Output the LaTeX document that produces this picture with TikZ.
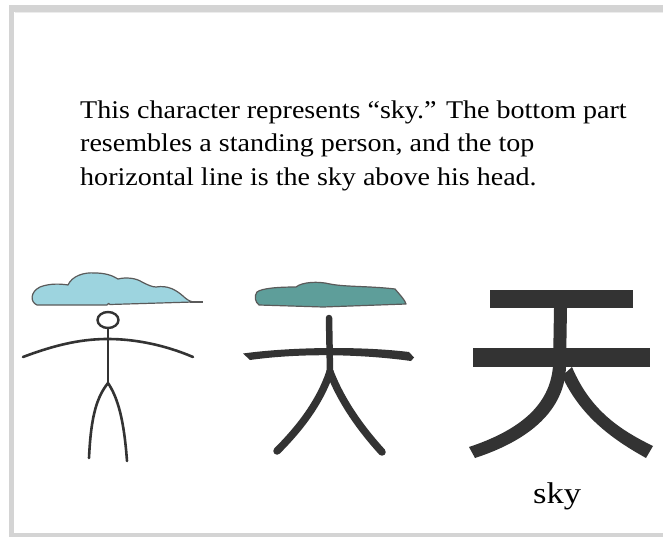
\documentclass[tikz,border=0pt]{standalone}
\usepackage{fontspec}
\setmainfont{Liberation Serif}
\usetikzlibrary{shapes.geometric}
\definecolor{frame}{HTML}{D4D4D4}
\definecolor{ink}{HTML}{333333}
\definecolor{skyblue}{HTML}{9DD4DF}
\definecolor{skyteal}{HTML}{5E9E9A}
\definecolor{cloudline}{HTML}{5A5A5A}
\tikzset{
  caption/.style={anchor=base west, inner sep=0pt, font=\fontsize{25.5}{34}\selectfont},
  glyphlabel/.style={anchor=base west, inner sep=0pt, font=\fontsize{30}{34}\selectfont},
  stick/.style={draw=ink, line width=2.6pt, line cap=round, line join=round},
  brush/.style={draw=ink, line width=6.5pt, line cap=round, line join=round},
  glyph/.style={fill=ink, draw=none},
  cloud/.style={draw=cloudline, line width=1.2pt, line join=round}
}
\begin{document}
\begin{tikzpicture}[x=1pt,y=-1pt]
\useasboundingbox (0,0) rectangle (663,537);
\fill[white] (0,0) rectangle (663,537);
% frame
\fill[frame] (9,5) rectangle (663,12);
\fill[frame] (9,5) rectangle (14,537);
\fill[frame] (9,533) rectangle (663,537);
\draw[gray!15, line width=0.8pt] (14.5,12.5) -- (663,12.5);

% caption
\node[caption] (l1) at (80,119) {\scalebox{1.10}[1]{This character represents “sky.” The bottom part}};
\node[caption] (l2) at (80,152) {\scalebox{1.10}[1]{resembles a standing person, and the top}};
\node[caption] (l3) at (80,185.5) {\scalebox{1.10}[1]{horizontal line is the sky above his head.}};

% --- stick figure under a cloud ---
\filldraw[cloud, fill=skyblue]
  (37,305) .. controls (30,302) and (30,292) .. (40,287)
  .. controls (50,283) and (62,284) .. (68,285)
  .. controls (72,276) and (84,272) .. (95,273)
  .. controls (104,273) and (112,275) .. (118,279)
  .. controls (126,277) and (136,278) .. (142,282)
  .. controls (148,285) and (152,287) .. (156,287)
  .. controls (168,285) and (176,290) .. (183,296)
  .. controls (186,299) and (189,301) .. (193,302)
  -- (110,304.5) .. controls (109,303) and (108,303) .. (107,305)
  -- cycle;
\draw[cloud] (190,302) -- (203,302);
\node[draw=ink, line width=2.4pt, ellipse, minimum width=21pt, minimum height=16pt, inner sep=0pt] (head) at (108,320) {};
\coordinate (hip) at (108,383);
\draw[stick] (head.south) -- (hip);
\draw[stick] (23,357) .. controls (60,343) and (85,339) .. (108,339)
  .. controls (135,339) and (165,345) .. (193,357);
\draw[stick] (hip) .. controls (97,397) and (91,415) .. (89,458);
\draw[stick] (hip) .. controls (118,398) and (124,420) .. (127,461);

% --- brush drawing under a flat cloud ---
\filldraw[cloud, fill=skyteal]
  (259,305) .. controls (255,302) and (254,296) .. (257,292)
  .. controls (262,288) and (280,287) .. (296,287)
  .. controls (302,282) and (318,281) .. (330,284)
  .. controls (345,287) and (370,286) .. (395,289)
  .. controls (400,295) and (405,300) .. (406,304)
  -- (323,307) -- cycle;
\coordinate (crest) at (329,318);
\coordinate (fork) at (330,372);
\draw[brush] (crest) -- (fork);
\fill[ink] (243,353.5) .. controls (290,347) and (360,346) .. (409,352)
  -- (414,357.5) -- (411,361) .. controls (360,354) and (300,353) .. (250,360)
  -- cycle;
\draw[brush, line width=7.5pt] (fork) .. controls (320,402) and (300,428) .. (277,451);
\draw[brush, line width=7.5pt] (fork) .. controls (342,403) and (362,430) .. (382,452);

% --- printed character ---
\fill[glyph] (490,290) rectangle (633,308);
\fill[glyph] (473,348) rectangle (650,367);
\fill[glyph] (554,308) -- (567,308) -- (566,367) -- (553,367) -- cycle;
\fill[glyph] (553,366) .. controls (550,405) and (520,430) .. (469,447)
  -- (475,458) .. controls (530,440) and (565,410) .. (566,366) -- cycle;
\fill[glyph] (562,376) .. controls (580,415) and (610,438) .. (646,458)
  -- (653,446) .. controls (620,430) and (590,410) .. (572,367) -- cycle;
\node[glyphlabel] (sky) at (533,503) {\scalebox{1.15}[1]{sky}};
\end{tikzpicture}
\end{document}
